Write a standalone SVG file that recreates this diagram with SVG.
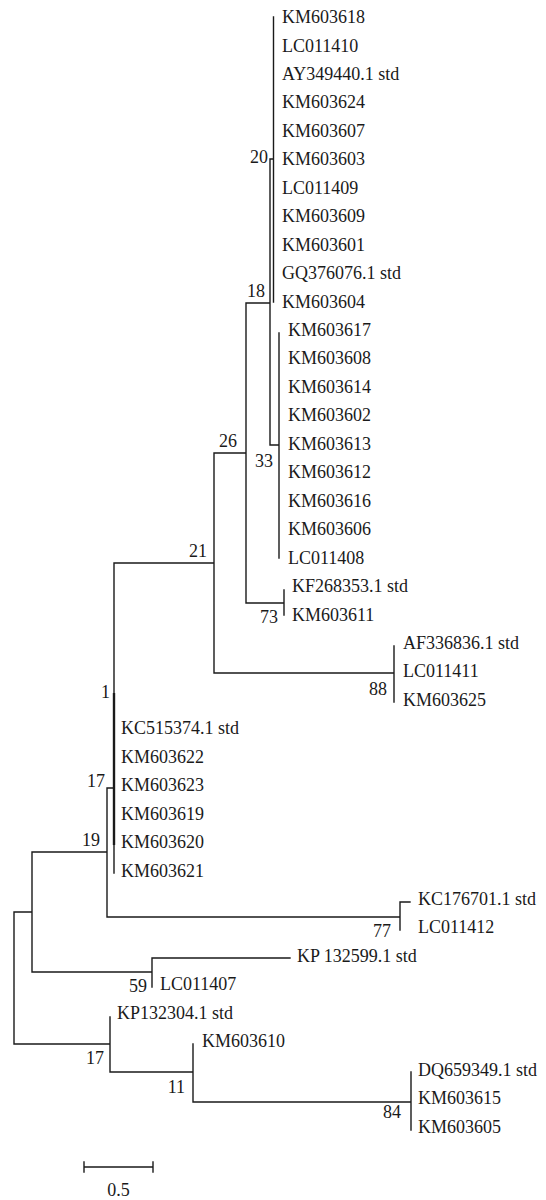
<svg xmlns="http://www.w3.org/2000/svg" width="546" height="1200" viewBox="0 0 546 1200">
<style>
.t{font-family:'Liberation Serif','Times New Roman',Times,'DejaVu Serif',serif;font-size:18px;fill:#1a1a1a}
.n{font-family:'Liberation Serif','Times New Roman',Times,'DejaVu Serif',serif;font-size:18px;fill:#1a1a1a;text-anchor:end}
.c{fill:none;stroke:#1a1a1a;stroke-width:1.4;stroke-linecap:square}
</style>
<rect width="546" height="1200" fill="#fff"/>
<g id="connectors" class="c">
<path d="M273.5,17V302M270,159H273.5M270,159V445M270,445H279M279,333V558M246,303H270M246,303V603M246,603H284M284,590V615M214,453H246M214,453V673M214,673H394M394,646V702M114,563H214M114,563V873M107,788H114M107,788V917M107,917H400M400,902V930M400,902H410M32,852H107M32,852V972M32,972H152M152,958V987M152,958H290M14,912H32M14,912V1044M14,1044H110M110,1017V1072M110,1072H193M193,1044V1102M193,1102H411M411,1072V1130"/>
<path d="M114,693V845" stroke-width="2.4" stroke-linecap="butt"/>
</g>
<g id="leaves" class="t">
<g id="leaf-KM603618"><text x="282" y="23">KM603618</text></g>
<g id="leaf-LC011410"><text x="282" y="51.5">LC011410</text></g>
<g id="leaf-AY349440"><text x="282" y="80">AY349440.1 std</text></g>
<g id="leaf-KM603624"><text x="282" y="108.4">KM603624</text></g>
<g id="leaf-KM603607"><text x="282" y="136.8">KM603607</text></g>
<g id="leaf-KM603603"><text x="282" y="165.3">KM603603</text></g>
<g id="leaf-LC011409"><text x="282" y="193.7">LC011409</text></g>
<g id="leaf-KM603609"><text x="282" y="222.2">KM603609</text></g>
<g id="leaf-KM603601"><text x="282" y="250.6">KM603601</text></g>
<g id="leaf-GQ376076"><text x="282" y="279.1">GQ376076.1 std</text></g>
<g id="leaf-KM603604"><text x="282" y="307.5">KM603604</text></g>
<g id="leaf-KM603617"><text x="288" y="336">KM603617</text></g>
<g id="leaf-KM603608"><text x="288" y="364.4">KM603608</text></g>
<g id="leaf-KM603614"><text x="288" y="392.9">KM603614</text></g>
<g id="leaf-KM603602"><text x="288" y="421.3">KM603602</text></g>
<g id="leaf-KM603613"><text x="288" y="449.8">KM603613</text></g>
<g id="leaf-KM603612"><text x="288" y="478.2">KM603612</text></g>
<g id="leaf-KM603616"><text x="288" y="506.7">KM603616</text></g>
<g id="leaf-KM603606"><text x="288" y="535.1">KM603606</text></g>
<g id="leaf-LC011408"><text x="288" y="563.6">LC011408</text></g>
<g id="leaf-KF268353"><text x="292" y="592">KF268353.1 std</text></g>
<g id="leaf-KM603611"><text x="292" y="620.5">KM603611</text></g>
<g id="leaf-AF336836"><text x="403" y="648.9">AF336836.1 std</text></g>
<g id="leaf-LC011411"><text x="403" y="677.4">LC011411</text></g>
<g id="leaf-KM603625"><text x="403" y="705.8">KM603625</text></g>
<g id="leaf-KC515374"><text x="121" y="734.3">KC515374.1 std</text></g>
<g id="leaf-KM603622"><text x="121" y="762.7">KM603622</text></g>
<g id="leaf-KM603623"><text x="121" y="791.2">KM603623</text></g>
<g id="leaf-KM603619"><text x="121" y="819.6">KM603619</text></g>
<g id="leaf-KM603620"><text x="121" y="848.1">KM603620</text></g>
<g id="leaf-KM603621"><text x="121" y="876.5">KM603621</text></g>
<g id="leaf-KC176701"><text x="418" y="905">KC176701.1 std</text></g>
<g id="leaf-LC011412"><text x="418" y="933.4">LC011412</text></g>
<g id="leaf-KP132599"><text x="297" y="961.9">KP 132599.1 std</text></g>
<g id="leaf-LC011407"><text x="160" y="990.3">LC011407</text></g>
<g id="leaf-KP132304"><text x="117" y="1018.8">KP132304.1 std</text></g>
<g id="leaf-KM603610"><text x="202" y="1047.2">KM603610</text></g>
<g id="leaf-DQ659349"><text x="418" y="1075.7">DQ659349.1 std</text></g>
<g id="leaf-KM603615"><text x="418" y="1104.1">KM603615</text></g>
<g id="leaf-KM603605"><text x="418" y="1132.6">KM603605</text></g>
</g>
<g id="support" class="n">
<g id="node-20"><text x="268" y="163">20</text></g>
<g id="node-18"><text x="265" y="297">18</text></g>
<g id="node-26"><text x="237" y="447">26</text></g>
<g id="node-33"><text x="273" y="467">33</text></g>
<g id="node-21"><text x="207" y="557">21</text></g>
<g id="node-73"><text x="278" y="623">73</text></g>
<g id="node-88"><text x="387" y="695">88</text></g>
<g id="node-1"><text x="110" y="698">1</text></g>
<g id="node-17a"><text x="105" y="787">17</text></g>
<g id="node-19"><text x="100" y="846">19</text></g>
<g id="node-77"><text x="391" y="937">77</text></g>
<g id="node-59"><text x="147" y="992">59</text></g>
<g id="node-17b"><text x="104" y="1064">17</text></g>
<g id="node-11"><text x="185" y="1093">11</text></g>
<g id="node-84"><text x="401" y="1118">84</text></g>
</g>
<g id="scale-bar">
<path class="c" d="M84,1167H153M84,1162V1172M153,1162V1172"/>
<text class="t" x="118.5" y="1196" text-anchor="middle">0.5</text>
</g>
</svg>
